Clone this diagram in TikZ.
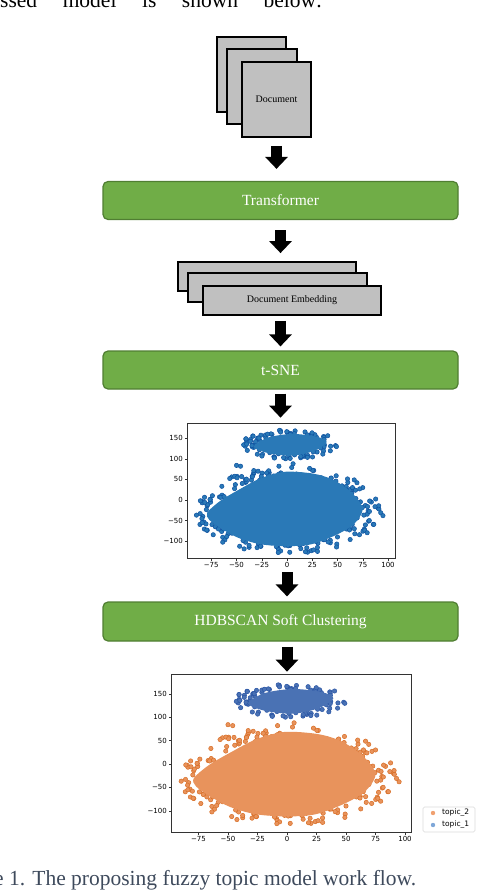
\documentclass[tikz,border=0pt]{standalone}
\usepackage{fontspec}
\setmainfont{Liberation Serif}
\newfontfamily\plotfont{DejaVu Sans}
\usetikzlibrary{calc,arrows.meta}

\definecolor{stagegreen}{HTML}{70AD47}
\definecolor{stageedge}{HTML}{507E32}
\definecolor{pagegray}{HTML}{C0C0C0}
\definecolor{captionink}{HTML}{3E4A5C}
\definecolor{blobblue}{HTML}{2A79B7}
\definecolor{rimblue}{HTML}{0F52A0}
\definecolor{bloborange}{HTML}{E8935C}
\definecolor{rimorange}{HTML}{D86E26}
\definecolor{topicblue}{HTML}{4A72B4}
\definecolor{rimtopic}{HTML}{2A55A5}
\definecolor{keyorange}{HTML}{F0A070}
\definecolor{keyblue}{HTML}{7FA7D8}

% one t-SNE cloud in data units: lower blob, its rim, upper blob, its rim
\newcommand\tsnedots[4]{%
  \pgfmathsetseed{21}
  \foreach \i in {1,...,230}{
    \pgfmathsetmacro\ang{360*rnd}
    \pgfmathsetmacro\rad{0.84+0.36*rnd}
    \filldraw[fill=#1, draw=#2, line width=0.5pt]
      ({78*\rad*cos(\ang)},{-25+88*\rad*sin(\ang)}) circle (2.2pt);
  }
  \foreach \p in {(95,-38),(-50,84),(-46,82),(75,30),(72,27),(-8,82),(6,88),(-86,-33),(-84,-55)}
    \filldraw[fill=#1, draw=#2, line width=0.5pt] \p circle (2.2pt);
  \fill[#1] plot[smooth cycle] coordinates {(-79,-30.5) (-66,-2) (-48,24.5) (-26,53) (-2,68.5)
    (26,64) (46,48.7) (64,18) (75,-21.7) (66,-59) (48,-85.5) (24,-107.5) (0,-112)
    (-26,-107.5) (-48,-92) (-66,-68) (-77,-48)};
  \foreach \i in {1,...,85}{
    \pgfmathsetmacro\ang{360*rnd}
    \pgfmathsetmacro\rad{0.8+0.38*rnd}
    \filldraw[fill=#3, draw=#4, line width=0.5pt]
      ({3+40*\rad*cos(\ang)},{135+30*\rad*sin(\ang)}) circle (2.2pt);
  }
  \fill[#3] plot[smooth cycle] coordinates {(-33,129.5) (-19,151.5) (5,160.3) (29.4,153.7)
    (39.3,140.5) (27.2,119.6) (5.2,107.5) (-19,114)};
}

\tikzset{
  docpage/.style={draw, line width=1.8pt, fill=pagegray, inner sep=0pt},
  stage/.style={draw=stageedge, line width=1.2pt, fill=stagegreen, rounded corners=5pt,
    minimum width=355pt, minimum height=38pt, text=white,
    font=\fontsize{15.5}{18}\selectfont},
  flow/.style={line width=11pt, -{Triangle[width=22pt,length=12pt]}},
  plotframe/.style={draw=black!80, line width=0.7pt, inner sep=0pt},
  tickmark/.style={draw=black!80, line width=0.5pt},
  ticklbl/.style={font=\plotfont\fontsize{7}{8}\selectfont, inner sep=0pt}
}

\begin{document}
\begin{tikzpicture}[x=1pt,y=-1pt]
  \clip (0,0) rectangle (482,890);

  \node[anchor=base west, inner sep=0pt, font=\fontsize{21.5}{24}\selectfont] (intro) at (0,7.5)
    {\makebox[322pt][s]{ssed model is shown below:}};

  % stacked documents
  \node[docpage, minimum width=69pt, minimum height=75pt] (doc1) at (251.5,74.5) {};
  \node[docpage, minimum width=70pt, minimum height=75pt] (doc2) at (262,86.5) {};
  \node[docpage, minimum width=69pt, minimum height=75pt, font=\fontsize{10}{12}\selectfont]
    (doc3) at (276.5,99.5) {Document};

  \node[stage] (trans) at (280.5,200.5) {Transformer};

  % stacked embeddings
  \node[docpage, minimum width=178pt, minimum height=29pt] (emb1) at (267,276.5) {};
  \node[docpage, minimum width=179pt, minimum height=29pt] (emb2) at (277.5,287.5) {};
  \node[docpage, minimum width=178pt, minimum height=29pt, font=\fontsize{10}{12}\selectfont]
    (emb3) at (292,300.5) {Document Embedding};

  \node[stage] (tsne) at (280.5,370) {t-SNE};

  % first scatter plot
  \node[plotframe, minimum width=208pt, minimum height=135pt] (plotA) at (291,490.5) {};
  \coordinate (midA) at (287,500);
  \begin{scope}[shift={(287,500)}, x=1.01pt, y=0.412pt]
    \tsnedots{blobblue}{rimblue}{blobblue}{rimblue}
    \foreach \t/\s [count=\k] in {-75/−75,-50/−50,-25/−25,0/0,25/25,50/50,75/75,100/100}{
      \draw[tickmark] (\t,-140.8) -- ++(0,-2.5pt);
      \node[ticklbl, anchor=north, yshift=-4pt] (xa\k) at (\t,-140.8) {\s};
    }
    \foreach \t/\s [count=\k] in {-100/−100,-50/−50,0/0,50/50,100/100,150/150}{
      \draw[tickmark] (-99,\t) -- ++(-2.5pt,0);
      \node[ticklbl, anchor=east, xshift=-4pt] (ya\k) at (-99,\t) {\s};
    }
  \end{scope}

  \node[stage, minimum height=39pt] (hdb) at (280.5,621.5) {HDBSCAN Soft Clustering};

  % second scatter plot
  \node[plotframe, minimum width=240pt, minimum height=158pt] (plotB) at (291,753) {};
  \begin{scope}[shift={(287,764)}, x=1.18pt, y=0.468pt]
    \tsnedots{bloborange}{rimorange}{topicblue}{rimtopic}
    \foreach \t/\s [count=\k] in {-75/−75,-50/−50,-25/−25,0/0,25/25,50/50,75/75,100/100}{
      \draw[tickmark] (\t,-145.3) -- ++(0,-2.5pt);
      \node[ticklbl, anchor=north, yshift=-4pt] (xb\k) at (\t,-145.3) {\s};
    }
    \foreach \t/\s [count=\k] in {-100/−100,-50/−50,0/0,50/50,100/100,150/150}{
      \draw[tickmark] (-98.3,\t) -- ++(-2.5pt,0);
      \node[ticklbl, anchor=east, xshift=-4pt] (yb\k) at (-98.3,\t) {\s};
    }
  \end{scope}

  % legend
  \node[draw=black!15, line width=0.6pt, rounded corners=1.5pt, minimum width=52pt,
    minimum height=25pt, inner sep=0pt] (key) at (449,819.5) {};
  \fill[keyorange] (433,813) circle (2.2pt);
  \fill[keyblue] (433,825) circle (2.2pt);
  \node[ticklbl, anchor=west, font=\plotfont\fontsize{7.5}{8}\selectfont] (t2) at (442,813) {topic\_2};
  \node[ticklbl, anchor=west, font=\plotfont\fontsize{7.5}{8}\selectfont] (t1) at (442,825) {topic\_1};

  % block arrows between the steps
  \draw[flow, shorten <=8pt, shorten >=12pt] (doc3.south) -- (doc3.south |- trans.north);
  \draw[flow, shorten <=10pt, shorten >=8pt] (trans.south) -- (trans.south |- emb1.north);
  \draw[flow, shorten <=5pt, shorten >=4pt] (tsne.north |- emb3.south) -- (tsne.north);
  \draw[flow, shorten <=4pt, shorten >=5pt] (tsne.south) -- (tsne.south |- plotA.north);
  \draw[flow, shorten <=14pt, shorten >=5pt] (plotA.south -| midA) -- (hdb.north -| midA);
  \draw[flow, shorten <=5pt, shorten >=2pt] (hdb.south -| midA) -- (plotB.north -| midA);

  \node[anchor=base west, inner sep=0pt, text=captionink, font=\fontsize{21.5}{24}\selectfont]
    (caption) at (-6,885) {e 1. The proposing fuzzy topic model work flow.};
\end{tikzpicture}
\end{document}
